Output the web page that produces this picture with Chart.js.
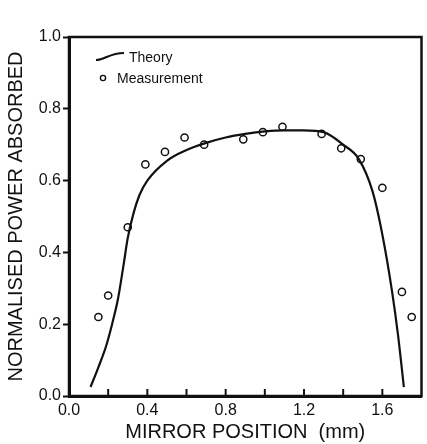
<!DOCTYPE html>
<html>
<head>
<meta charset="utf-8">
<script src="https://cdn.jsdelivr.net/npm/chart.js@4.4.1/dist/chart.umd.min.js"></script>
<style>
  html, body { margin: 0; padding: 0; background: #fff; }
  #wrap { width: 427px; height: 444px; }
</style>
</head>
<body>
<div id="wrap"><canvas id="chart"></canvas></div>
<script>
// Theory curve (mirror position mm, normalised power)
const theoryX = [0.11, 0.15, 0.19, 0.22, 0.25, 0.28, 0.30, 0.33, 0.36, 0.40, 0.50, 0.60, 0.70, 0.80, 0.90, 1.00, 1.10, 1.20, 1.30, 1.40, 1.48, 1.55, 1.60, 1.65, 1.68, 1.71];
const theoryY = [0.025, 0.08, 0.14, 0.20, 0.27, 0.37, 0.44, 0.51, 0.56, 0.60, 0.655, 0.685, 0.705, 0.72, 0.73, 0.737, 0.74, 0.74, 0.735, 0.70, 0.66, 0.57, 0.45, 0.29, 0.17, 0.025];

// Measurements
const measX = [0.15, 0.20, 0.30, 0.39, 0.49, 0.59, 0.69, 0.89, 0.99, 1.09, 1.29, 1.39, 1.49, 1.60, 1.70, 1.75];
const measY = [0.22, 0.28, 0.47, 0.645, 0.68, 0.72, 0.70, 0.715, 0.735, 0.75, 0.73, 0.69, 0.66, 0.58, 0.29, 0.22];

const xTickLabels = ['0.0', '0.4', '0.8', '1.2', '1.6'];
const yTickLabels = ['0.0', '0.2', '0.4', '0.6', '0.8', '1.0'];

const ink = '#111';
const fontFam = "'Liberation Sans', Arial, sans-serif";

const zip = (xs, ys) => xs.map((x, i) => ({ x: x, y: ys[i] }));

// frame, inward x ticks, legend
const framePlugin = {
  id: 'frame',
  afterDraw(chart) {
    const { ctx, chartArea: a, scales } = chart;
    ctx.save();
    ctx.strokeStyle = ink;
    ctx.lineWidth = 2.5;
    ctx.strokeRect(a.left, a.top, a.right - a.left, a.bottom - a.top);

    // inward x ticks
    ctx.lineWidth = 2;
    scales.x.ticks.forEach(t => {
      const px = scales.x.getPixelForValue(t.value);
      if (px <= a.left + 2 || px >= a.right - 2) return;
      ctx.beginPath();
      ctx.moveTo(px, a.bottom);
      ctx.lineTo(px, a.bottom - 7);
      ctx.stroke();
    });

    // legend
    ctx.lineWidth = 2.2;
    ctx.beginPath();
    ctx.moveTo(96, 60);
    ctx.bezierCurveTo(104, 60, 110, 53, 124, 53);
    ctx.stroke();
    ctx.lineWidth = 1.4;
    ctx.beginPath();
    ctx.arc(103, 78, 2.6, 0, Math.PI * 2);
    ctx.stroke();
    ctx.fillStyle = ink;
    ctx.font = '14px ' + fontFam;
    ctx.textBaseline = 'middle';
    ctx.fillText('Theory', 129, 58);
    ctx.fillText('Measurement', 117, 79);
    ctx.restore();
  }
};

new Chart(document.getElementById('chart'), {
  type: 'scatter',
  data: {
    datasets: [{
      label: 'Theory',
      data: zip(theoryX, theoryY),
      showLine: true,
      borderColor: ink,
      borderWidth: 2.2,
      pointRadius: 0,
      cubicInterpolationMode: 'monotone'
    }, {
      label: 'Measurement',
      data: zip(measX, measY),
      showLine: false,
      pointStyle: 'circle',
      pointRadius: 3.6,
      pointBorderWidth: 1.5,
      pointBorderColor: ink,
      pointBackgroundColor: '#fff'
    }]
  },
  options: {
    responsive: true,
    maintainAspectRatio: false,
    animation: false,
    layout: { padding: { top: 37, right: 1, left: 0, bottom: 0 } },
    plugins: {
      legend: { display: false },
      tooltip: { enabled: false }
    },
    scales: {
      x: {
        type: 'linear',
        min: 0,
        max: 1.8,
        afterFit(s) { s.height = 48; },
        grid: { display: true, drawOnChartArea: false, drawTicks: false },
        border: { color: ink, width: 3 },
        ticks: {
          stepSize: 0.2,
          color: ink,
          padding: 5,
          maxRotation: 0,
          autoSkip: false,
          font: { family: fontFam, size: 16 },
          callback: (v) => {
            const lbl = (Math.round(v * 10) / 10).toFixed(1);
            return xTickLabels.includes(lbl) ? lbl : '';
          }
        },
        title: {
          display: true,
          text: 'MIRROR POSITION  (mm)',
          color: ink,
          padding: { top: 0, bottom: 0 },
          font: { family: fontFam, size: 20 }
        }
      },
      y: {
        min: 0,
        max: 1.0,
        afterFit(s) { s.width = 69; },
        grid: { drawOnChartArea: false, tickLength: 6, tickWidth: 2, color: ink },
        border: { color: ink, width: 3 },
        ticks: {
          stepSize: 0.2,
          color: ink,
          padding: 2,
          font: { family: fontFam, size: 16 },
          callback: (v) => {
            const lbl = (Math.round(v * 10) / 10).toFixed(1);
            return yTickLabels.includes(lbl) ? lbl : '';
          }
        },
        title: {
          display: true,
          text: 'NORMALISED POWER ABSORBED',
          color: ink,
          padding: { top: 4, bottom: 0 },
          font: { family: fontFam, size: 20 }
        }
      }
    }
  },
  plugins: [framePlugin]
});
</script>
</body>
</html>
